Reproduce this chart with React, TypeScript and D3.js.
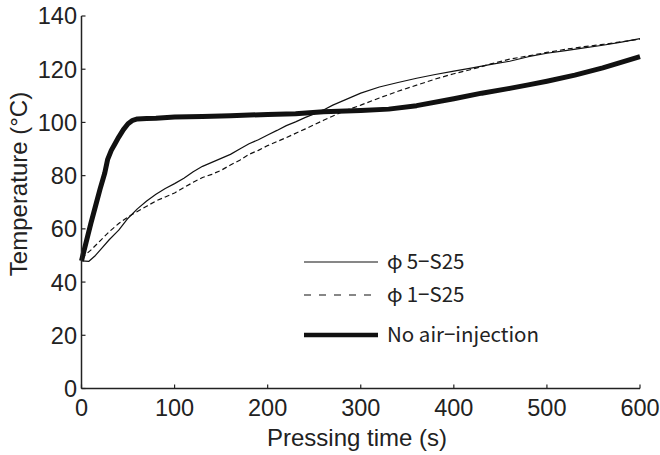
import React from "react"
import * as d3 from "d3"

// pressing time (s) and temperature (°C) for each condition
const noAirTime = [0, 5, 10, 15, 20, 25, 28, 32, 36, 40, 45, 50, 55, 60, 70, 80, 100, 130, 160, 200, 230, 260, 300, 330, 360, 400, 430, 460, 480, 500, 530, 560, 600]
const noAirTemp = [48, 55, 62, 68.5, 75, 81, 86, 89.5, 92, 94.5, 97.3, 99.5, 100.8, 101.3, 101.5, 101.6, 102, 102.2, 102.5, 103, 103.3, 104, 104.5, 105, 106.3, 108.9, 111, 112.8, 114.1, 115.5, 117.8, 120.5, 124.7]

const phi5Time = [0, 8, 15, 20, 30, 40, 50, 60, 70, 80, 90, 100, 110, 120, 130, 140, 150, 160, 170, 180, 190, 200, 210, 220, 230, 240, 250, 260, 270, 280, 290, 300, 320, 340, 360, 380, 400, 420, 440, 460, 480, 500, 520, 540, 560, 580, 600]
const phi5Temp = [48, 47.8, 50, 52, 56, 59.5, 64, 67.5, 70.5, 73, 75.2, 77, 79, 81.5, 83.5, 85, 86.5, 88, 90, 92, 93.5, 95.3, 97, 98.8, 100.2, 101.8, 103.2, 104.7, 106.5, 108, 109.5, 111, 113.3, 115, 116.6, 118, 119.3, 120.5, 121.8, 123, 124.7, 126, 127, 128, 129, 130.2, 131.5]

const phi1Time = [0, 10, 20, 30, 40, 50, 60, 70, 80, 90, 100, 110, 120, 130, 140, 150, 160, 170, 180, 190, 200, 220, 240, 260, 280, 300, 320, 340, 360, 380, 400, 420, 440, 460, 480, 500, 520, 540, 560, 580, 600]
const phi1Temp = [49, 52, 55.5, 59, 62, 64.5, 66.5, 68.5, 70.5, 72, 73.5, 75.5, 77.5, 79.3, 80.5, 82, 84, 85.8, 88, 89.5, 91.3, 94.3, 97.5, 100.8, 104, 106.5, 109.2, 111.7, 114, 116.3, 118.3, 120, 122, 123.8, 125, 126.3, 127.5, 128.5, 129.3, 130.3, 131.3]

const xTicks = [0, 100, 200, 300, 400, 500, 600]
const yTicks = [0, 20, 40, 60, 80, 100, 120, 140]

const legendLabels = ["φ\u20095−S25", "φ\u20091−S25", "No air−injection"]

const W = 660, H = 455
const font = "'Liberation Sans', Arial, sans-serif"

const App = () => {
    const x = d3.scaleLinear().domain([0, 600]).range([81.5, 640])
    const y = d3.scaleLinear().domain([0, 140]).range([388.5, 16])

    const zip = (t: number[], v: number[]) => t.map((d, i) => [d, v[i]] as [number, number])
    const line = d3.line<[number, number]>().x(d => x(d[0])).y(d => y(d[1]))

    const series = [
        {data: zip(phi5Time, phi5Temp), width: 1.2, dash: "none", legendDash: "none"},
        {data: zip(phi1Time, phi1Temp), width: 1.2, dash: "5,3", legendDash: "7,8"},
        {data: zip(noAirTime, noAirTemp), width: 5, dash: "none", legendDash: "none"},
    ]
    const legendY = [262, 295, 335]

    return (
        <svg width={W} height={H} style={{display: "block", position: "absolute", left: 0, top: 0}}>
            <rect width={W} height={H} fill="white" />
            {series.map((s, i) => (
                <path key={i} d={line(s.data) || ""} fill="none" stroke="#111" strokeWidth={s.width}
                    strokeDasharray={s.dash} strokeLinejoin="round" />
            ))}

            {/* axes */}
            <line x1={x(0)} x2={x(600)} y1={y(0)} y2={y(0)} stroke="#222" strokeWidth={1.5} />
            <line x1={x(0)} x2={x(0)} y1={y(0)} y2={y(140)} stroke="#222" strokeWidth={1.5} />
            {xTicks.map(t => (
                <g key={"x" + t}>
                    <line x1={x(t)} x2={x(t)} y1={y(0)} y2={y(0) - 4} stroke="#222" strokeWidth={1.2} />
                    <text x={x(t)} y={416} textAnchor="middle" fontFamily={font} fontSize={23.5} fill="#222">{t}</text>
                </g>
            ))}
            {yTicks.map(t => (
                <g key={"y" + t}>
                    <line x1={x(0)} x2={x(0) + 4} y1={y(t)} y2={y(t)} stroke="#222" strokeWidth={1.2} />
                    <text x={77} y={y(t)} dy="0.36em" textAnchor="end" fontFamily={font} fontSize={23.5} fill="#222">{t}</text>
                </g>
            ))}
            <text x={357} y={446} textAnchor="middle" fontFamily={font} fontSize={24} fill="#222">Pressing time (s)</text>
            <text transform="translate(27,184) rotate(-90)" textAnchor="middle" fontFamily={font} fontSize={24} fill="#222">Temperature (°C)</text>

            {/* legend */}
            {series.map((s, i) => (
                <g key={"l" + i}>
                    <line x1={304} x2={378} y1={legendY[i]} y2={legendY[i]} stroke="#111"
                        strokeWidth={i === 2 ? 4.5 : 1.2} strokeDasharray={s.legendDash} />
                    <text x={387} y={legendY[i]} dy="0.36em" fontFamily="'Noto Sans CJK JP', sans-serif" fontSize={20.5} fill="#222">{legendLabels[i]}</text>
                </g>
            ))}
        </svg>
    )
}

export default App
